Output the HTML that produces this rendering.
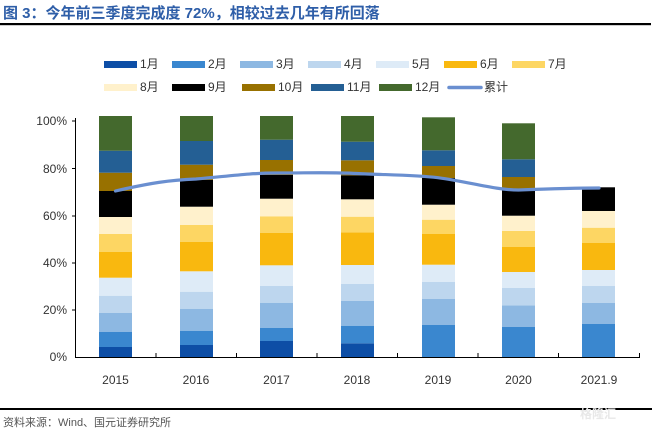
<!DOCTYPE html>
<html><head><meta charset="utf-8"><style>
html,body{margin:0;padding:0;background:#fff;}
svg{display:block;font-family:"Liberation Sans","Noto Sans CJK SC",sans-serif;}
</style></head><body>
<svg width="652" height="432" viewBox="0 0 652 432" xmlns="http://www.w3.org/2000/svg">
<text x="3" y="18" font-size="15" font-weight="bold" fill="#2e5ea8" font-family="'Liberation Sans','Noto Sans CJK SC',sans-serif">图 3：今年前三季度完成度 72%，相较过去几年有所回落</text>
<rect x="0" y="23" width="651" height="2.2" fill="#000"/>
<!-- legend -->
<g font-size="12" fill="#333">
<rect x="104" y="61" width="33" height="7" fill="#0d4ea6"/><text x="140" y="68">1月</text>
<rect x="172" y="61" width="33" height="7" fill="#3a87cf"/><text x="208" y="68">2月</text>
<rect x="240" y="61" width="33" height="7" fill="#8db8e2"/><text x="276" y="68">3月</text>
<rect x="308" y="61" width="33" height="7" fill="#bdd6ee"/><text x="344" y="68">4月</text>
<rect x="376" y="61" width="33" height="7" fill="#deebf7"/><text x="412" y="68">5月</text>
<rect x="444" y="61" width="33" height="7" fill="#f9b80f"/><text x="480" y="68">6月</text>
<rect x="512" y="61" width="33" height="7" fill="#fdd663"/><text x="548" y="68">7月</text>
<rect x="104" y="84" width="33" height="7" fill="#fff1cc"/><text x="140" y="91">8月</text>
<rect x="172" y="84" width="33" height="7" fill="#000"/><text x="208" y="91">9月</text>
<rect x="242" y="84" width="33" height="7" fill="#987100"/><text x="278" y="91">10月</text>
<rect x="311" y="84" width="33" height="7" fill="#245f94"/><text x="347" y="91">11月</text>
<rect x="379" y="84" width="33" height="7" fill="#44692d"/><text x="415" y="91">12月</text>
<line x1="449" y1="87.5" x2="481" y2="87.5" stroke="#6a8fd0" stroke-width="3.5" stroke-linecap="round"/><text x="484" y="91">累计</text>
</g>
<!-- axes -->
<g font-size="12" fill="#333" text-anchor="end">
<text x="67" y="125">100%</text><text x="67" y="173">80%</text><text x="67" y="220">60%</text>
<text x="67" y="267">40%</text><text x="67" y="314">20%</text><text x="67" y="361">0%</text>
</g>
<g stroke="#000" stroke-width="1">
<line x1="75.5" y1="118" x2="75.5" y2="357"/>
<line x1="72" y1="121" x2="75.5" y2="121"/><line x1="72" y1="168.5" x2="75.5" y2="168.5"/>
<line x1="72" y1="216" x2="75.5" y2="216"/><line x1="72" y1="263" x2="75.5" y2="263"/>
<line x1="72" y1="310" x2="75.5" y2="310"/>
</g>
<!-- bars -->
<g>
<!-- 2015 x99 -->
<rect x="99" y="347" width="33" height="10" fill="#0d4ea6"/>
<rect x="99" y="332" width="33" height="15" fill="#3a87cf"/>
<rect x="99" y="313" width="33" height="19" fill="#8db8e2"/>
<rect x="99" y="295.7" width="33" height="17.3" fill="#bdd6ee"/>
<rect x="99" y="277.7" width="33" height="18" fill="#deebf7"/>
<rect x="99" y="251.7" width="33" height="26" fill="#f9b80f"/>
<rect x="99" y="234" width="33" height="17.7" fill="#fdd663"/>
<rect x="99" y="217" width="33" height="17" fill="#fff1cc"/>
<rect x="99" y="191" width="33" height="26" fill="#000"/>
<rect x="99" y="172.7" width="33" height="18.3" fill="#987100"/>
<rect x="99" y="150.7" width="33" height="22" fill="#245f94"/>
<rect x="99" y="116" width="33" height="34.7" fill="#44692d"/>
<!-- 2016 x180 -->
<rect x="180" y="345" width="33" height="12" fill="#0d4ea6"/>
<rect x="180" y="330.7" width="33" height="14.3" fill="#3a87cf"/>
<rect x="180" y="308.7" width="33" height="22" fill="#8db8e2"/>
<rect x="180" y="291.7" width="33" height="17" fill="#bdd6ee"/>
<rect x="180" y="271.3" width="33" height="20.4" fill="#deebf7"/>
<rect x="180" y="241.7" width="33" height="29.6" fill="#f9b80f"/>
<rect x="180" y="225" width="33" height="16.7" fill="#fdd663"/>
<rect x="180" y="206.7" width="33" height="18.3" fill="#fff1cc"/>
<rect x="180" y="180" width="33" height="26.7" fill="#000"/>
<rect x="180" y="164.7" width="33" height="15.3" fill="#987100"/>
<rect x="180" y="141" width="33" height="23.7" fill="#245f94"/>
<rect x="180" y="116" width="33" height="25" fill="#44692d"/>
<!-- 2017 x260 -->
<rect x="260" y="341" width="33" height="16" fill="#0d4ea6"/>
<rect x="260" y="328" width="33" height="13" fill="#3a87cf"/>
<rect x="260" y="302.7" width="33" height="25.3" fill="#8db8e2"/>
<rect x="260" y="286" width="33" height="16.7" fill="#bdd6ee"/>
<rect x="260" y="265.3" width="33" height="20.7" fill="#deebf7"/>
<rect x="260" y="232.7" width="33" height="32.6" fill="#f9b80f"/>
<rect x="260" y="216.3" width="33" height="16.4" fill="#fdd663"/>
<rect x="260" y="198.7" width="33" height="17.6" fill="#fff1cc"/>
<rect x="260" y="175" width="33" height="23.7" fill="#000"/>
<rect x="260" y="160" width="33" height="15" fill="#987100"/>
<rect x="260" y="139.7" width="33" height="20.3" fill="#245f94"/>
<rect x="260" y="116" width="33" height="23.7" fill="#44692d"/>
<!-- 2018 x341 -->
<rect x="341" y="343.3" width="33" height="13.7" fill="#0d4ea6"/>
<rect x="341" y="325.7" width="33" height="17.6" fill="#3a87cf"/>
<rect x="341" y="301" width="33" height="24.7" fill="#8db8e2"/>
<rect x="341" y="284" width="33" height="17" fill="#bdd6ee"/>
<rect x="341" y="265" width="33" height="19" fill="#deebf7"/>
<rect x="341" y="232.3" width="33" height="32.7" fill="#f9b80f"/>
<rect x="341" y="216.7" width="33" height="15.6" fill="#fdd663"/>
<rect x="341" y="199.3" width="33" height="17.4" fill="#fff1cc"/>
<rect x="341" y="175.3" width="33" height="24" fill="#000"/>
<rect x="341" y="160.3" width="33" height="15" fill="#987100"/>
<rect x="341" y="141.7" width="33" height="18.6" fill="#245f94"/>
<rect x="341" y="116" width="33" height="25.7" fill="#44692d"/>
<!-- 2019 x422 -->
<rect x="422" y="325" width="33" height="32" fill="#3a87cf"/>
<rect x="422" y="299" width="33" height="26" fill="#8db8e2"/>
<rect x="422" y="282" width="33" height="17" fill="#bdd6ee"/>
<rect x="422" y="264.7" width="33" height="17.3" fill="#deebf7"/>
<rect x="422" y="234" width="33" height="30.7" fill="#f9b80f"/>
<rect x="422" y="219.7" width="33" height="14.3" fill="#fdd663"/>
<rect x="422" y="204.7" width="33" height="15" fill="#fff1cc"/>
<rect x="422" y="178" width="33" height="26.7" fill="#000"/>
<rect x="422" y="166" width="33" height="12" fill="#987100"/>
<rect x="422" y="150.3" width="33" height="15.7" fill="#245f94"/>
<rect x="422" y="117.3" width="33" height="33" fill="#44692d"/>
<!-- 2020 x502 -->
<rect x="502" y="327" width="33" height="30" fill="#3a87cf"/>
<rect x="502" y="305.3" width="33" height="21.7" fill="#8db8e2"/>
<rect x="502" y="288" width="33" height="17.3" fill="#bdd6ee"/>
<rect x="502" y="272" width="33" height="16" fill="#deebf7"/>
<rect x="502" y="247" width="33" height="25" fill="#f9b80f"/>
<rect x="502" y="231" width="33" height="16" fill="#fdd663"/>
<rect x="502" y="215.7" width="33" height="15.3" fill="#fff1cc"/>
<rect x="502" y="190" width="33" height="25.7" fill="#000"/>
<rect x="502" y="177" width="33" height="13" fill="#987100"/>
<rect x="502" y="159.3" width="33" height="17.7" fill="#245f94"/>
<rect x="502" y="123.3" width="33" height="36" fill="#44692d"/>
<!-- 2021.9 x582 -->
<rect x="582" y="324" width="33" height="33" fill="#3a87cf"/>
<rect x="582" y="303" width="33" height="21" fill="#8db8e2"/>
<rect x="582" y="286" width="33" height="17" fill="#bdd6ee"/>
<rect x="582" y="270" width="33" height="16" fill="#deebf7"/>
<rect x="582" y="243" width="33" height="27" fill="#f9b80f"/>
<rect x="582" y="227.7" width="33" height="15.3" fill="#fdd663"/>
<rect x="582" y="211" width="33" height="16.7" fill="#fff1cc"/>
<rect x="582" y="187.3" width="33" height="23.7" fill="#000"/>
</g>
<!-- x axis -->
<g stroke="#000" stroke-width="1">
<line x1="75" y1="357.5" x2="640" y2="357.5"/>
<line x1="156" y1="353" x2="156" y2="357"/><line x1="236.5" y1="353" x2="236.5" y2="357"/>
<line x1="317" y1="353" x2="317" y2="357"/><line x1="397.5" y1="353" x2="397.5" y2="357"/>
<line x1="478" y1="353" x2="478" y2="357"/><line x1="558.5" y1="353" x2="558.5" y2="357"/>
<line x1="639.5" y1="353" x2="639.5" y2="357"/>
</g>
<g font-size="12" fill="#333" text-anchor="middle">
<text x="115.5" y="384">2015</text><text x="196" y="384">2016</text><text x="276.5" y="384">2017</text>
<text x="357" y="384">2018</text><text x="438" y="384">2019</text><text x="518.5" y="384">2020</text>
<text x="599" y="384">2021.9</text>
</g>
<!-- line -->
<path d="M115.5,191 C150,183 170,180 196,179 C230,176 250,173 276.5,173 C310,173 330,172 357,173.5 C390,175 415,175 438,177.7 C470,182 495,190 518.5,190 C545,189 575,188 599,188" fill="none" stroke="#6a8fd0" stroke-width="3.2" stroke-linecap="round"/>
<!-- footer -->
<rect x="0" y="408" width="652" height="2" fill="#000"/>
<text x="3" y="426" font-size="11" fill="#555">资料来源：Wind、国元证券研究所</text>
<text x="580" y="418" font-size="12" fill="#e8e8e8" font-weight="bold">格隆汇</text>
</svg>
</body></html>
